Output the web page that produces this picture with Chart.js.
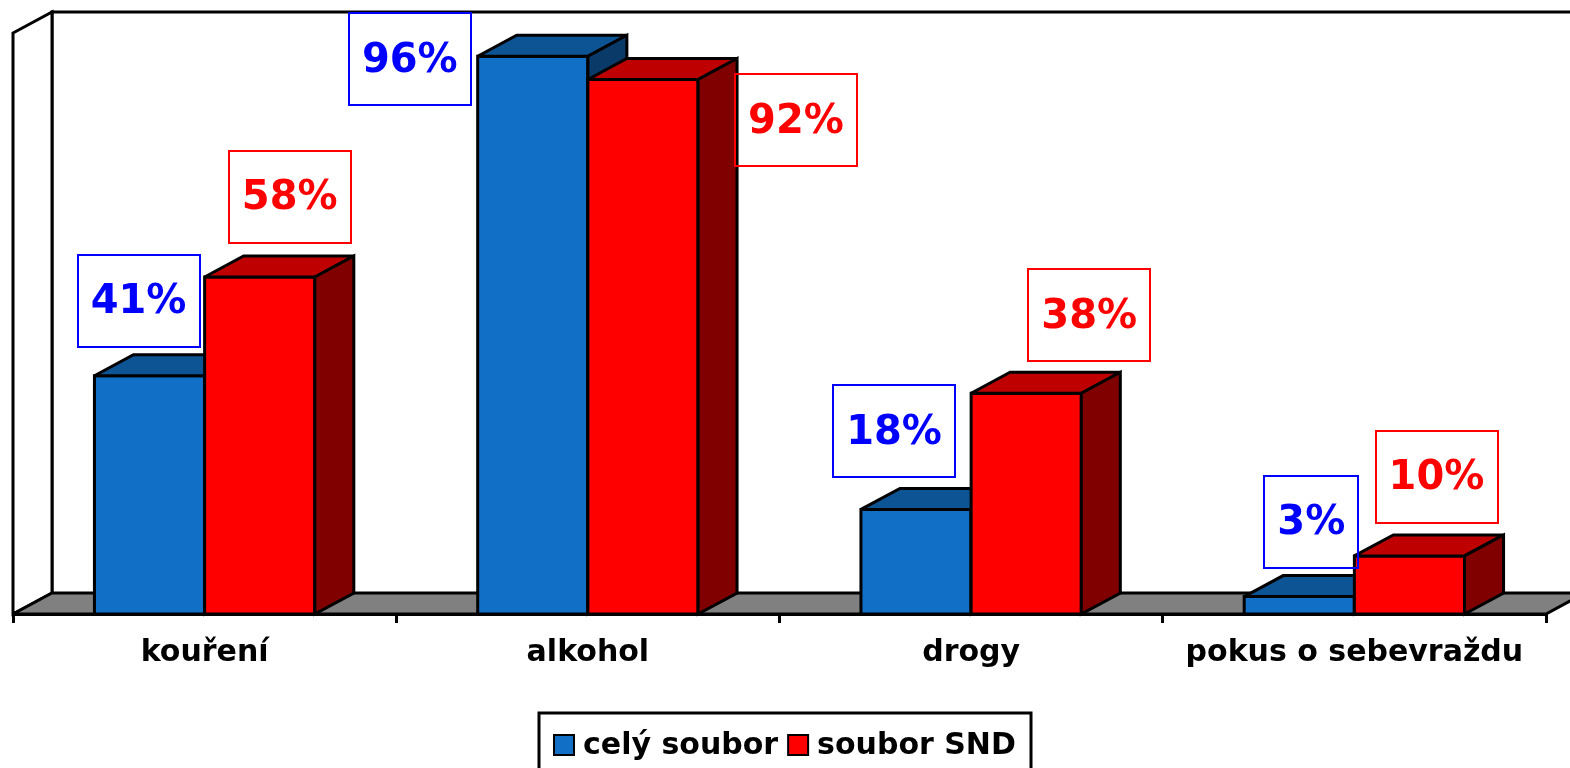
<!DOCTYPE html>
<html>
<head>
<meta charset="utf-8">
<script src="https://cdn.jsdelivr.net/npm/chart.js@4.4.0/dist/chart.umd.min.js"></script>
<style>
  body { margin: 0; background: #fff; }
  canvas { display: block; }
</style>
</head>
<body>
<canvas id="chart" width="1570" height="768"></canvas>
<script>
// data
var categories = ['kouření', 'alkohol', 'drogy', 'pokus o sebevraždu'];
var celySoubor = [41, 96, 18, 3];
var souborSND = [58, 92, 38, 10];
var seriesNames = ['celý soubor', 'soubor SND'];

// hand-nudged label boxes (px from the top middle of the bar front)
var blueLabelShift = [[-11, -75], [-123, 3], [-22, -78], [12, -75]];
var redLabelShift = [[30, -80], [153, 41], [63, -78], [27, -79]];

var depthX = 39, depthY = -21;

var faces = [
    { front: '#116fc6', top: '#0d5494', side: '#0a3a68', label: '#0000ff' },
    { front: '#ff0000', top: '#bf0000', side: '#800000', label: '#ff0000' }
];

function poly(ctx, pts, fill) {
    ctx.beginPath();
    ctx.moveTo(pts[0][0], pts[0][1]);
    for (var k = 1; k < pts.length; k++) ctx.lineTo(pts[k][0], pts[k][1]);
    ctx.closePath();
    ctx.fillStyle = fill;
    ctx.fill();
    ctx.stroke();
}

var box3d = {
    id: 'box3d',
    beforeDatasetsDraw: function(chart) {
        var ctx = chart.ctx, a = chart.chartArea;
        ctx.save();
        ctx.strokeStyle = '#000';
        ctx.lineWidth = 3;
        ctx.lineJoin = 'miter';
        ctx.miterLimit = 2;
        // back wall
        ctx.fillStyle = '#fff';
        ctx.fillRect(a.left + depthX, a.top + depthY, a.right - a.left, a.bottom - a.top);
        ctx.beginPath();
        ctx.moveTo(a.left + depthX, a.bottom + depthY);
        ctx.lineTo(a.left + depthX, a.top + depthY);
        ctx.lineTo(a.right + depthX + 40, a.top + depthY);
        ctx.stroke();
        // side wall
        poly(ctx, [[a.left, a.top], [a.left + depthX, a.top + depthY],
                   [a.left + depthX, a.bottom + depthY], [a.left, a.bottom]], '#fff');
        // floor
        poly(ctx, [[a.left, a.bottom], [a.left + depthX, a.bottom + depthY],
                   [a.right + depthX, a.bottom + depthY], [a.right, a.bottom]], '#808080');
        ctx.restore();
    },
    afterDatasetsDraw: function(chart) {
        var ctx = chart.ctx;
        ctx.save();
        ctx.strokeStyle = '#000';
        ctx.lineWidth = 3;
        ctx.lineJoin = 'miter';
        ctx.miterLimit = 2;
        for (var i = 0; i < categories.length; i++) {
            for (var d = 0; d < 2; d++) {
                var el = chart.getDatasetMeta(d).data[i];
                var f = faces[d];
                var x0 = el.x - el.width / 2, x1 = el.x + el.width / 2;
                var yt = el.y, yb = el.base;
                poly(ctx, [[x0, yt], [x1, yt], [x1, yb], [x0, yb]], f.front);
                poly(ctx, [[x0, yt], [x0 + depthX, yt + depthY], [x1 + depthX, yt + depthY], [x1, yt]], f.top);
                poly(ctx, [[x1, yt], [x1 + depthX, yt + depthY], [x1 + depthX, yb + depthY], [x1, yb]], f.side);
            }
        }
        // value boxes
        ctx.font = 'bold 40px "DejaVu Sans"';
        ctx.textAlign = 'center';
        ctx.textBaseline = 'middle';
        ctx.lineWidth = 2;
        for (var d2 = 0; d2 < 2; d2++) {
            var meta = chart.getDatasetMeta(d2);
            var shift = d2 === 0 ? blueLabelShift : redLabelShift;
            var vals = chart.data.datasets[d2].data;
            for (var j = 0; j < vals.length; j++) {
                var e = meta.data[j];
                var txt = vals[j] + '%';
                var w = ctx.measureText(txt).width + 26, h = 92;
                var cx = e.x + shift[j][0], cy = e.y + shift[j][1];
                ctx.strokeStyle = faces[d2].label;
                ctx.strokeRect(Math.round(cx - w / 2), Math.round(cy - h / 2), Math.round(w), h);
                ctx.fillStyle = faces[d2].label;
                ctx.fillText(txt, cx, cy + 2);
            }
        }
        ctx.restore();
    },
    afterDraw: function(chart) {
        // legend in a framed box
        var ctx = chart.ctx;
        ctx.save();
        ctx.font = 'bold 30px "DejaVu Sans"';
        ctx.textBaseline = 'middle';
        var sq = 20, gap = 9, between = 10, pad = 15;
        var total = 0;
        for (var k = 0; k < seriesNames.length; k++) {
            total += sq + gap + ctx.measureText(seriesNames[k]).width;
        }
        total += between * (seriesNames.length - 1);
        var bw = total + pad * 2;
        var bx = Math.round(chart.width / 2 - bw / 2), by = 713;
        ctx.strokeStyle = '#000';
        ctx.lineWidth = 3;
        ctx.strokeRect(bx, by, Math.round(bw), 80);
        ctx.lineWidth = 2;
        var x = bx + pad, yc = 745;
        for (var m = 0; m < seriesNames.length; m++) {
            ctx.fillStyle = faces[m].front;
            ctx.fillRect(x, yc - sq / 2, sq, sq);
            ctx.strokeRect(x, yc - sq / 2, sq, sq);
            x += sq + gap;
            ctx.fillStyle = '#000';
            ctx.fillText(seriesNames[m], x, yc + 1);
            x += ctx.measureText(seriesNames[m]).width + between;
        }
        ctx.restore();
    }
};

Chart.defaults.font.family = '"DejaVu Sans", sans-serif';

var ctx = document.getElementById('chart').getContext('2d');
var myChart = new Chart(ctx, {
    type: 'bar',
    data: {
        labels: categories,
        datasets: [{
            label: seriesNames[0],
            data: celySoubor,
            backgroundColor: faces[0].front,
            borderColor: '#000',
            borderWidth: 2
        }, {
            label: seriesNames[1],
            data: souborSND,
            backgroundColor: faces[1].front,
            borderColor: '#000',
            borderWidth: 2
        }]
    },
    options: {
        responsive: false,
        animation: false,
        layout: { padding: { left: 13, right: 24, top: 33, bottom: 85 } },
        datasets: { bar: { categoryPercentage: 0.575, barPercentage: 1 } },
        scales: {
            x: {
                grid: { drawOnChartArea: false, tickLength: 9, color: '#000', lineWidth: 3 },
                border: { color: '#000', width: 3 },
                ticks: { color: '#000', padding: 12, font: { size: 30, weight: 'bold' } }
            },
            y: { display: false, min: 0, max: 100 }
        },
        plugins: {
            legend: { display: false },
            tooltip: { enabled: false }
        }
    },
    plugins: [box3d]
});
</script>
</body>
</html>
